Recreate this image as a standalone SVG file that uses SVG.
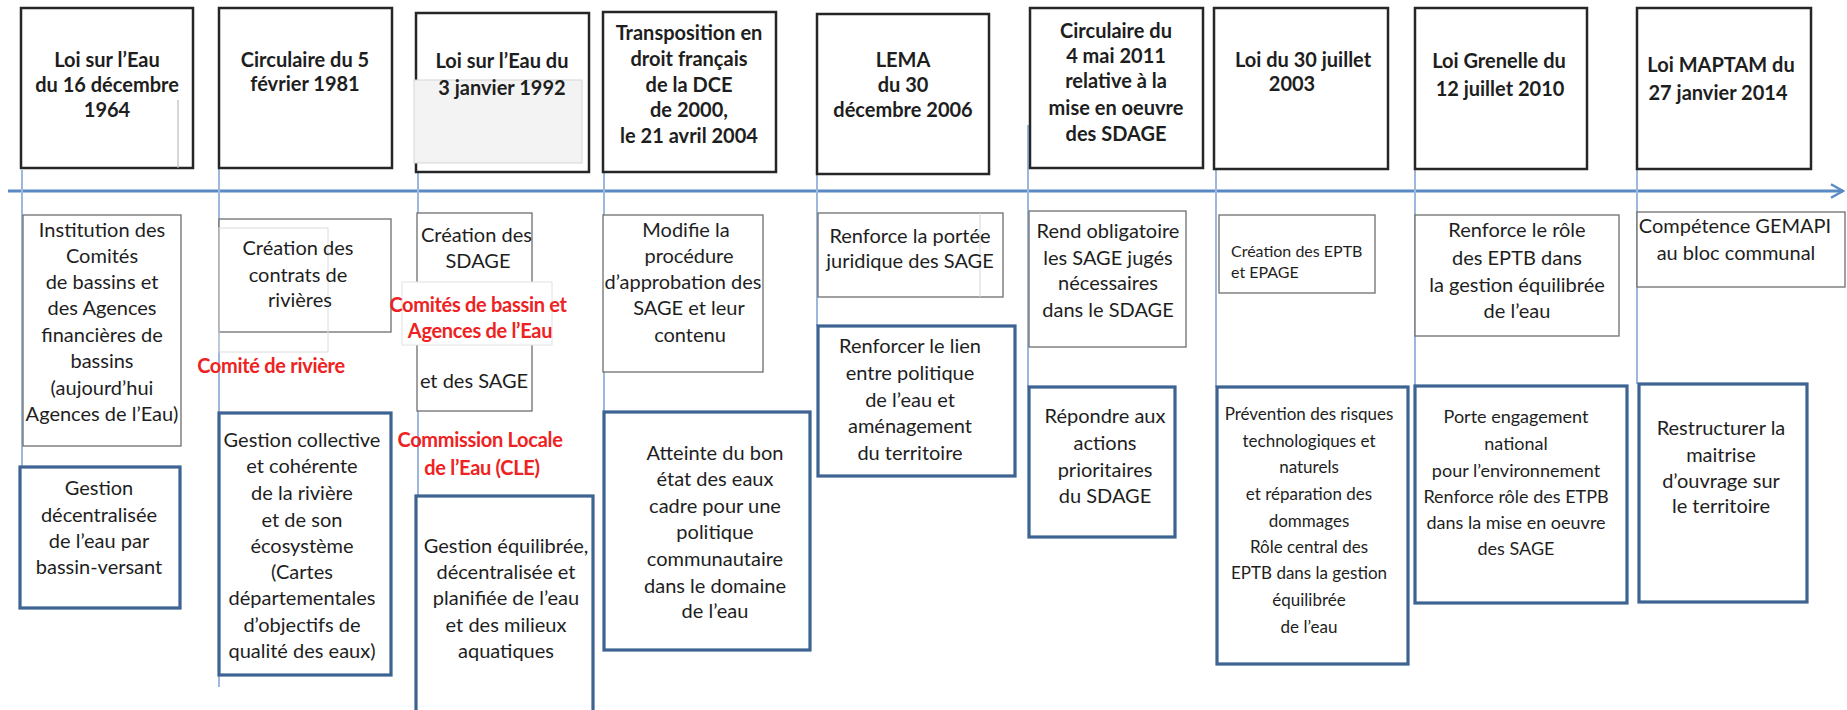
<svg xmlns="http://www.w3.org/2000/svg" width="1847" height="710" viewBox="0 0 1847 710">
<style>
text{font-family:Lato,"Liberation Sans",sans-serif;fill:#1e1e1e;text-anchor:middle}
.t{font-size:20px;font-weight:bold}
.b{font-size:20px}
.s17{font-size:17px}
.s18{font-size:18px}
.s16{font-size:16px}
.red{font-size:20px;font-weight:bold;fill:#ee2222;letter-spacing:-0.3px}
.top{fill:#fff;stroke:#262626;stroke-width:2.5}
.thin{fill:#fff;stroke:#6e6e6e;stroke-width:1.3}
.blue{fill:#fff;stroke:#3d6392;stroke-width:3.2}
.faint{fill:none;stroke:#dcdcdc;stroke-width:1}
.vl{stroke:#9db8dc;stroke-width:2;fill:none}
.axis{stroke:#5a8ac6;stroke-width:3;fill:none}
</style>
<defs>
<marker id="chev" viewBox="0 0 10 10" refX="9" refY="5" markerWidth="5" markerHeight="6" orient="auto" markerUnits="strokeWidth">
<path d="M1,0.5 L9,5 L1,9.5" fill="none" stroke="#5a8ac6" stroke-width="1.6"/>
</marker>
</defs>
<rect width="1847" height="710" fill="#fff"/>
<g id="connectors">
<line class="axis" x1="8" y1="191" x2="1843" y2="191" marker-end="url(#chev)"/>
<line class="vl" x1="22" y1="170" x2="22" y2="467"/>
<line class="vl" x1="219" y1="135" x2="219" y2="687"/>
<line class="vl" x1="418" y1="172" x2="418" y2="496"/>
<line class="vl" x1="604" y1="140" x2="604" y2="412"/>
<line class="vl" x1="817" y1="174" x2="817" y2="326"/>
<line class="vl" x1="1028" y1="125" x2="1028" y2="387"/>
<line class="vl" x1="1216" y1="118" x2="1216" y2="387"/>
<line class="vl" x1="1415" y1="169" x2="1415" y2="386"/>
<line class="vl" x1="1637" y1="169" x2="1637" y2="384"/>
</g>
<g id="n1964">
<rect class="top" x="21" y="8" width="172" height="160"/>
<line x1="178" y1="100" x2="178" y2="168" stroke="#bdbdbd" stroke-width="1.2"/>
<text class="t" x="107" y="67">Loi sur l’Eau</text>
<text class="t" x="107" y="92">du 16 décembre</text>
<text class="t" x="107" y="117">1964</text>
</g>
<g id="n1981">
<rect class="top" x="219" y="8" width="173" height="160"/>
<text class="t" x="305" y="67">Circulaire du 5</text>
<text class="t" x="305" y="91">février 1981</text>
</g>
<g id="n1992">
<rect class="top" x="416" y="13" width="173" height="159"/>
<rect x="414" y="80" width="168" height="83" fill="#f3f3f3" stroke="#d6d6d6" stroke-width="1"/>
<text class="t" x="502" y="68">Loi sur l’Eau du</text>
<text class="t" x="502" y="95">3 janvier 1992</text>
</g>
<g id="n2004">
<rect class="top" x="603" y="12" width="173" height="160"/>
<text class="t" x="689" y="40">Transposition en</text>
<text class="t" x="689" y="66">droit français</text>
<text class="t" x="689" y="92">de la DCE</text>
<text class="t" x="689" y="117">de 2000,</text>
<text class="t" x="689" y="143">le 21 avril 2004</text>
</g>
<g id="n2006">
<rect class="top" x="817" y="14" width="172" height="160"/>
<text class="t" x="903" y="67">LEMA</text>
<text class="t" x="903" y="92">du 30</text>
<text class="t" x="903" y="117">décembre 2006</text>
</g>
<g id="n2011">
<rect class="top" x="1030" y="8" width="173" height="160"/>
<text class="t" x="1116" y="38">Circulaire du</text>
<text class="t" x="1116" y="63">4 mai 2011</text>
<text class="t" x="1116" y="88">relative à la</text>
<text class="t" x="1116" y="115">mise en oeuvre</text>
<text class="t" x="1116" y="141">des SDAGE</text>
</g>
<g id="n2003">
<rect class="top" x="1214" y="8" width="174" height="161"/>
<text class="t" x="1303" y="67">Loi du 30 juillet</text>
<text class="t" x="1292" y="91">2003</text>
</g>
<g id="n2010">
<rect class="top" x="1415" y="8" width="172" height="161"/>
<text class="t" x="1499" y="68">Loi Grenelle du</text>
<text class="t" x="1500" y="96">12 juillet 2010</text>
</g>
<g id="n2014">
<rect class="top" x="1637" y="8" width="174" height="161"/>
<text class="t" x="1721" y="72">Loi MAPTAM du</text>
<text class="t" x="1718" y="100">27 janvier 2014</text>
</g>
<g id="institution">
<rect class="thin" x="23" y="215" width="158" height="231"/>
<text class="b" x="102" y="237">Institution des</text>
<text class="b" x="102" y="263">Comités</text>
<text class="b" x="102" y="289">de bassins et</text>
<text class="b" x="102" y="315">des Agences</text>
<text class="b" x="102" y="342">financières de</text>
<text class="b" x="102" y="368">bassins</text>
<text class="b" x="102" y="395">(aujourd’hui</text>
<text class="b" x="102" y="421">Agences de l’Eau)</text>
</g>
<g id="contrats">
<rect class="thin" x="219" y="219" width="172" height="113"/>
<rect class="faint" x="219" y="228" width="109" height="124"/>
<text class="b" x="298" y="255">Création des</text>
<text class="b" x="298" y="282">contrats de</text>
<text class="b" x="300" y="307">rivières</text>
</g>
<g id="sdage">
<rect class="thin" x="417" y="213" width="115" height="198"/>
<rect x="402" y="282" width="150" height="63" fill="#fff" stroke="#e2e2e2" stroke-width="1"/>
<text class="b" x="421" y="242" style="text-anchor:start">Création des</text>
<text class="b" x="478" y="268">SDAGE</text>
<text class="b" x="474" y="388">et des SAGE</text>
</g>
<g id="modifie">
<rect class="thin" x="603" y="215" width="160" height="157"/>
<text class="b" x="686" y="237">Modifie la</text>
<text class="b" x="689" y="263">procédure</text>
<text class="b" x="683" y="289">d’approbation des</text>
<text class="b" x="689" y="315">SAGE et leur</text>
<text class="b" x="690" y="342">contenu</text>
</g>
<g id="portee">
<rect class="thin" x="818" y="213" width="185" height="84"/>
<line x1="980" y1="213" x2="980" y2="297" stroke="#d6d6d6" stroke-width="1"/>
<text class="b" x="910" y="243">Renforce la portée</text>
<text class="b" x="910" y="268">juridique des SAGE</text>
</g>
<g id="obligatoire">
<rect class="thin" x="1029" y="211" width="157" height="136"/>
<text class="b" x="1108" y="238">Rend obligatoire</text>
<text class="b" x="1108" y="265">les SAGE jugés</text>
<text class="b" x="1108" y="290">nécessaires</text>
<text class="b" x="1108" y="317">dans le SDAGE</text>
</g>
<g id="eptb">
<rect class="thin" x="1219" y="215" width="156" height="78"/>
<text class="s16" x="1231" y="257" style="text-anchor:start">Création des EPTB</text>
<text class="s16" x="1231" y="278" style="text-anchor:start">et EPAGE</text>
</g>
<g id="role">
<rect class="thin" x="1415" y="215" width="204" height="121"/>
<text class="b" x="1517" y="237">Renforce le rôle</text>
<text class="b" x="1517" y="265">des EPTB dans</text>
<text class="b" x="1517" y="292">la gestion équilibrée</text>
<text class="b" x="1517" y="318">de l’eau</text>
</g>
<g id="gemapi">
<rect class="thin" x="1637" y="212" width="208" height="75"/>
<text class="b" x="1735" y="233">Compétence GEMAPI</text>
<text class="b" x="1736" y="260">au bloc communal</text>
</g>
<g id="labels">
<text class="red" x="271" y="373">Comité de rivière</text>
<text class="red" x="478" y="312">Comités de bassin et</text>
<text class="red" x="480" y="338">Agences de l’Eau</text>
<text class="red" x="480" y="447">Commission Locale</text>
<text class="red" x="482" y="475">de l’Eau (CLE)</text>
</g>
<g id="decentralisee">
<rect class="blue" x="20" y="467" width="160" height="141"/>
<text class="b" x="99" y="495">Gestion</text>
<text class="b" x="99" y="522">décentralisée</text>
<text class="b" x="99" y="548">de l’eau par</text>
<text class="b" x="99" y="574">bassin-versant</text>
</g>
<g id="collective">
<rect class="blue" x="219" y="413" width="172" height="262"/>
<text class="b" x="302" y="447">Gestion collective</text>
<text class="b" x="302" y="473">et cohérente</text>
<text class="b" x="302" y="500">de la rivière</text>
<text class="b" x="302" y="527">et de son</text>
<text class="b" x="302" y="553">écosystème</text>
<text class="b" x="302" y="579">(Cartes</text>
<text class="b" x="302" y="605">départementales</text>
<text class="b" x="302" y="632">d’objectifs de</text>
<text class="b" x="302" y="658">qualité des eaux)</text>
</g>
<g id="equilibree">
<rect class="blue" x="416" y="496" width="177" height="220"/>
<text class="b" x="506" y="553">Gestion équilibrée,</text>
<text class="b" x="506" y="579">décentralisée et</text>
<text class="b" x="506" y="605">planifiée de l’eau</text>
<text class="b" x="506" y="632">et des milieux</text>
<text class="b" x="506" y="658">aquatiques</text>
</g>
<g id="atteinte">
<rect class="blue" x="604" y="412" width="206" height="238"/>
<text class="b" x="715" y="460">Atteinte du bon</text>
<text class="b" x="715" y="486">état des eaux</text>
<text class="b" x="715" y="513">cadre pour une</text>
<text class="b" x="715" y="539">politique</text>
<text class="b" x="715" y="566">communautaire</text>
<text class="b" x="715" y="593">dans le domaine</text>
<text class="b" x="715" y="618">de l’eau</text>
</g>
<g id="lien">
<rect class="blue" x="818" y="326" width="197" height="150"/>
<text class="b" x="910" y="353">Renforcer le lien</text>
<text class="b" x="910" y="380">entre politique</text>
<text class="b" x="910" y="407">de l’eau et</text>
<text class="b" x="910" y="433">aménagement</text>
<text class="b" x="910" y="460">du territoire</text>
</g>
<g id="repondre">
<rect class="blue" x="1029" y="387" width="146" height="150"/>
<text class="b" x="1105" y="423">Répondre aux</text>
<text class="b" x="1105" y="450">actions</text>
<text class="b" x="1105" y="477">prioritaires</text>
<text class="b" x="1105" y="503">du SDAGE</text>
</g>
<g id="prevention">
<rect class="blue" x="1217" y="387" width="191" height="277"/>
<text class="s17" x="1309" y="420">Prévention des risques</text>
<text class="s17" x="1309" y="447">technologiques et</text>
<text class="s17" x="1309" y="473">naturels</text>
<text class="s17" x="1309" y="500">et réparation des</text>
<text class="s17" x="1309" y="527">dommages</text>
<text class="s17" x="1309" y="553">Rôle central des</text>
<text class="s17" x="1309" y="579">EPTB dans la gestion</text>
<text class="s17" x="1309" y="606">équilibrée</text>
<text class="s17" x="1309" y="633">de l’eau</text>
</g>
<g id="engagement">
<rect class="blue" x="1415" y="386" width="212" height="217"/>
<text class="s18" x="1516" y="423">Porte engagement</text>
<text class="s18" x="1516" y="450">national</text>
<text class="s18" x="1516" y="477">pour l’environnement</text>
<text class="s18" x="1516" y="503">Renforce rôle des ETPB</text>
<text class="s18" x="1516" y="529">dans la mise en oeuvre</text>
<text class="s18" x="1516" y="555">des SAGE</text>
</g>
<g id="restructurer">
<rect class="blue" x="1639" y="384" width="168" height="218"/>
<text class="b" x="1721" y="435">Restructurer la</text>
<text class="b" x="1721" y="462">maitrise</text>
<text class="b" x="1721" y="488">d’ouvrage sur</text>
<text class="b" x="1721" y="513">le territoire</text>
</g>
</svg>
